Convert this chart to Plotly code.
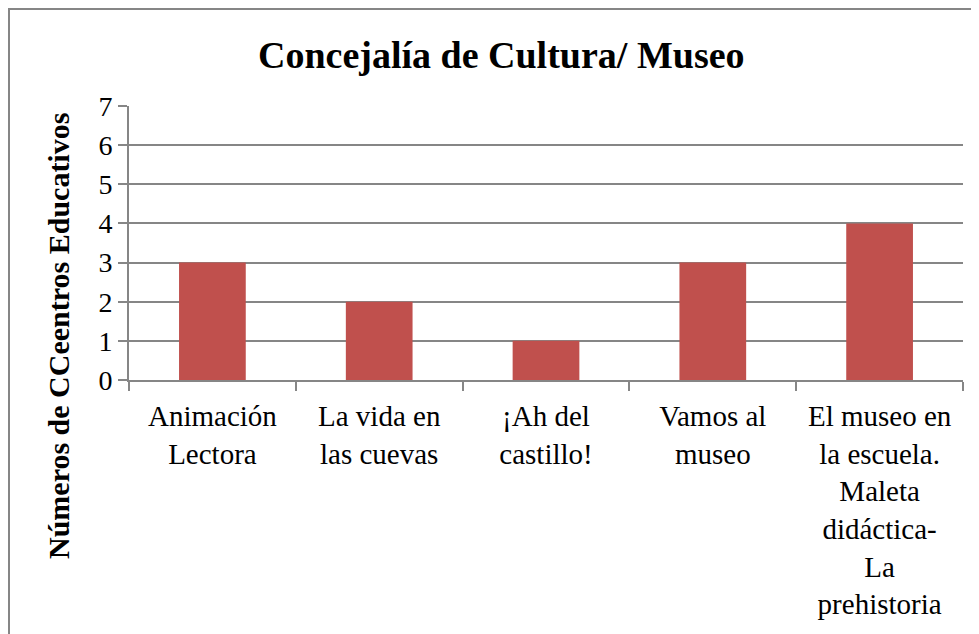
import plotly.graph_objects as go

# chart data #
categorias = [
    "Animación<br>Lectora",
    "La vida en<br>las cuevas",
    "¡Ah del<br>castillo!",
    "Vamos al<br>museo",
    "El museo en<br>la escuela.<br>Maleta<br>didáctica-<br>La<br>prehistoria",
]
centros = [3, 2, 1, 3, 4]

gris = "#868686"
fuente = "Liberation Serif"

fig = go.Figure(go.Bar(x=categorias, y=centros, marker=dict(color="#C0504D", line=dict(width=0))))

# page body has an 8px margin, so the figure is 8px smaller #
fig.update_layout(
    width=971, height=626,
    margin=dict(l=121, r=16, t=98, b=254),
    paper_bgcolor="white", plot_bgcolor="white",
    bargap=0.6,
    showlegend=False,
    font=dict(family=fuente, color="black"),
    title=dict(text="<b>Concejalía de Cultura/ Museo</b>", x=0.508, xanchor="center",
               y=1 - 47 / 626, yanchor="middle", font=dict(size=38, family=fuente)),
)

fig.update_yaxes(
    range=[0, 7], dtick=1, showgrid=True, gridcolor=gris, gridwidth=2,
    zeroline=False, showline=True, linecolor=gris, linewidth=2,
    ticks="outside", ticklen=9, tickcolor=gris, tickwidth=2,
    tickfont=dict(size=28, family=fuente),
)
fig.update_xaxes(
    showgrid=False, showline=True, linecolor=gris, linewidth=2,
    ticks="outside", tickson="boundaries", ticklen=9, tickcolor=gris, tickwidth=2,
    tickfont=dict(size=29, family=fuente), tickangle=0, ticklabelstandoff=9,
)

pw, ph = 834, 274
# y title sits lower than the axis centre, as in the original #
fig.add_annotation(text="<b>Números de CCeentros Educativos</b>", textangle=-90,
                   xref="paper", yref="paper", x=(50 - 121) / pw, y=(372 - 328) / ph,
                   xanchor="center", yanchor="middle", showarrow=False,
                   font=dict(size=30, family=fuente))

# chart frame #
fig.add_shape(type="rect", xref="paper", yref="paper",
              x0=(1 - 121) / pw, x1=(967 - 121) / pw,
              y0=(372 - 700) / ph, y1=(372 - 1) / ph,
              line=dict(color=gris, width=2), layer="below")

fig.write_html("out.html")
